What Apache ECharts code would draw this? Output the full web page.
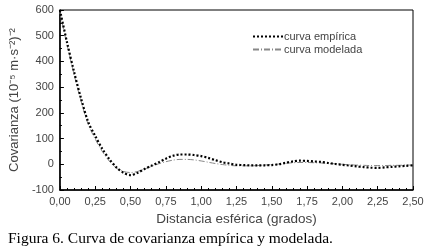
<!DOCTYPE html>
<html><head><meta charset="utf-8">
<script src="https://cdn.jsdelivr.net/npm/echarts@6/dist/echarts.min.js"></script>
<style>html,body{margin:0;padding:0;background:#fff}#c{width:428px;height:252px}</style>
</head><body><div id="c"></div>
<script>
const distances = [0.00,0.05,0.10,0.15,0.20,0.25,0.30,0.35,0.40,0.45,0.50,0.55,0.60,0.65,0.70,0.75,0.80,0.85,0.90,0.95,1.00,1.05,1.10,1.15,1.20,1.25,1.30,1.35,1.40,1.45,1.50,1.55,1.60,1.65,1.70,1.75,1.80,1.85,1.90,1.95,2.00,2.05,2.10,2.15,2.20,2.25,2.30,2.35,2.40,2.45,2.50];
const empirica = [600,475,360,255,165,110,60,20,-12,-33,-42,-33,-18,-5,8,22,33,38,38,36,32,25,16,8,3,-2,-3,-4,-4,-4,-3,0,6,11,14,13,11,9,5,1,-2,-5,-8,-11,-13,-14,-12,-10,-8,-6,-4];
const modelada = [590,465,350,245,155,98,50,12,-15,-28,-32,-28,-18,-8,2,10,16,19,19,17,13,8,3,-1,-4,-6,-6,-6,-5,-3,-1,1,4,6,7,7,6,5,3,2,0,-2,-3,-4,-5,-5,-5,-4,-4,-3,-3];
const seriesNames = ['curva empírica','curva modelada'];
const caption = 'Figura 6. Curva de covarianza empírica y modelada.';

const chart = echarts.init(document.getElementById('c'), null, {renderer:'canvas'});
const txt = '#444';
chart.setOption({
  animation:false,
  grid:{left:55,right:15,top:10,bottom:62,show:true,borderColor:'#000',borderWidth:1},
  legend:{
    top:26,left:247,orient:'vertical',itemGap:2,itemWidth:30,itemHeight:8,
    itemStyle:{opacity:0},
    textStyle:{fontFamily:'Liberation Sans',fontSize:11,color:txt,padding:[0,0,0,-4]},
    data:seriesNames
  },
  xAxis:{
    type:'value',min:0,max:2.5,interval:0.25,
    name:'Distancia esférica (grados)',nameLocation:'middle',nameGap:21,
    nameTextStyle:{fontFamily:'Liberation Sans',fontSize:13.5,color:txt},
    axisLine:{onZero:false,lineStyle:{color:'#000',width:1.5}},
    axisTick:{inside:true,length:4,lineStyle:{color:'#000'}},
    minorTick:{show:true,splitNumber:5,length:2,lineStyle:{color:'#000'}},
    splitLine:{show:false},
    axisLabel:{fontFamily:'Liberation Sans',fontSize:11,color:txt,margin:6,
      formatter:v=>v.toFixed(2).replace('.',',')}
  },
  yAxis:{
    type:'value',min:-100,max:600,interval:100,
    name:'Covarianza (10⁻⁵ m·s⁻²)⁻²',nameLocation:'middle',nameGap:37,
    nameTextStyle:{fontFamily:'Liberation Sans',fontSize:13,color:txt},
    axisLine:{show:true,onZero:false,lineStyle:{color:'#000',width:1.5}},
    axisTick:{show:true,inside:true,length:4,lineStyle:{color:'#000'}},
    minorTick:{show:true,splitNumber:2,length:2,lineStyle:{color:'#000'}},
    splitLine:{show:false},
    axisLabel:{fontFamily:'Liberation Sans',fontSize:11,color:txt,margin:6}
  },
  series:[
    {name:seriesNames[0],type:'line',symbol:'none',smooth:0.3,
     data:distances.map((d,i)=>[d,empirica[i]]),
     lineStyle:{color:'#000',width:2.2,type:[2,2]},itemStyle:{color:'#000'},z:3},
    {name:seriesNames[1],type:'line',symbol:'none',smooth:0.3,
     data:distances.map((d,i)=>[d,modelada[i]]),
     lineStyle:{color:'#888',width:1,type:[6,2,1,2]},itemStyle:{color:'#888'},z:2}
  ],
  graphic:[{type:'text',left:8,top:231,style:{text:caption,font:'15.5px "Liberation Serif"',fill:'#000'}}]
});
</script></body></html>
